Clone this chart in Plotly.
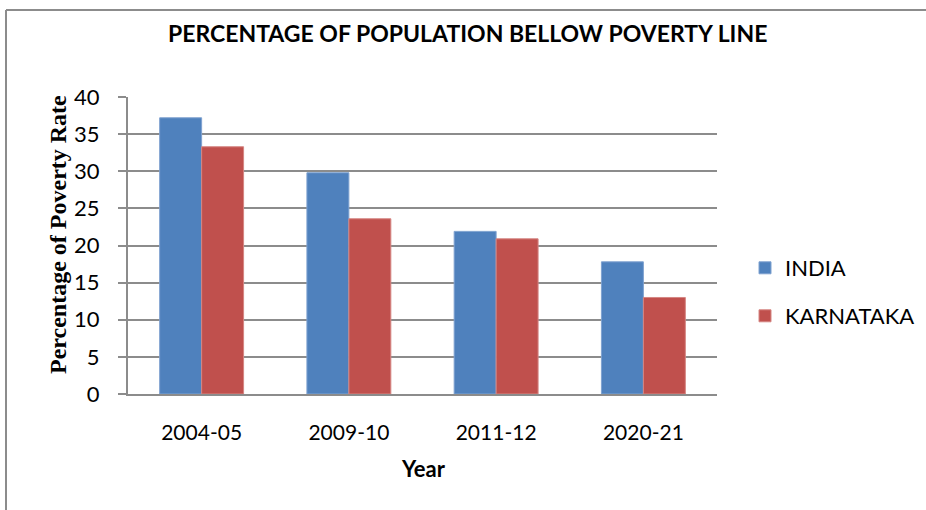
import plotly.graph_objects as go

years = ["2004-05", "2009-10", "2011-12", "2020-21"]
india = [37.2, 29.8, 21.9, 17.8]
karnataka = [33.3, 23.6, 20.9, 13.0]
y_ticks = [0, 5, 10, 15, 20, 25, 30, 35, 40]

W, H = 926, 510
L, R, T, B = 128, 209, 97, 116
pw, ph = W - L - R, H - T - B

def px_x(x):
    return (x - L) / pw

def px_y(y):
    return (H - B - y) / ph

font_main = "Lato, 'Open Sans', sans-serif"

fig = go.Figure()
fig.add_trace(go.Bar(x=years, y=india, name="INDIA", marker=dict(color="#4F81BD", line=dict(color="#7FA2D0", width=1)), legend="legend"))
fig.add_trace(go.Bar(x=years, y=karnataka, name="KARNATAKA", marker=dict(color="#C0504D", line=dict(color="#D58683", width=1)), legend="legend2"))

fig.update_layout(
    width=W, height=H,
    margin=dict(l=L, r=R, t=T, b=B, autoexpand=False),
    paper_bgcolor="white", plot_bgcolor="white",
    barmode="group", bargap=0.43, bargroupgap=0,
    font=dict(family=font_main, size=21, color="black"),
    legend=dict(x=px_x(745), y=px_y(268), xanchor="left", yanchor="middle",
                font=dict(size=22, family=font_main), bgcolor="rgba(0,0,0,0)"),
    legend2=dict(x=px_x(745), y=px_y(316), xanchor="left", yanchor="middle",
                 font=dict(size=22, family=font_main), bgcolor="rgba(0,0,0,0)"),
    xaxis=dict(type="category", showline=True, linecolor="#8c8c8c", linewidth=2, ticks="",
               tickfont=dict(size=21, family=font_main), ticklabelstandoff=19,
               showgrid=False),
    yaxis=dict(range=[0, 40], tickvals=y_ticks, showline=True, linecolor="#8c8c8c", linewidth=2,
               ticks="outside", ticklen=8, tickcolor="#8c8c8c", tickwidth=2,
               showgrid=True, gridcolor="#8c8c8c", gridwidth=2, zeroline=False,
               tickfont=dict(size=22, family=font_main), ticklabelstandoff=14),
    showlegend=True,
)

fig.add_annotation(text="<b>PERCENTAGE OF POPULATION BELLOW POVERTY LINE</b>", xref="paper", yref="paper",
                   x=px_x(467), y=px_y(33), showarrow=False, xanchor="center", yanchor="middle",
                   font=dict(size=23, family=font_main))
fig.add_annotation(text="<b>Year</b>", xref="paper", yref="paper", x=px_x(423), y=px_y(468),
                   showarrow=False, xanchor="center", yanchor="middle", font=dict(size=22, family=font_main))
fig.add_annotation(text="<b>Percentage of Poverty Rate</b>", xref="paper", yref="paper", x=px_x(58), y=px_y(235),
                   showarrow=False, xanchor="center", yanchor="middle", textangle=-90,
                   font=dict(size=24, family="'Liberation Serif', 'Times New Roman', serif"))

# outer border
fig.add_shape(type="line", xref="paper", yref="paper", x0=px_x(6), x1=px_x(940), y0=px_y(10), y1=px_y(10),
              line=dict(color="#8c8c8c", width=2))
fig.add_shape(type="line", xref="paper", yref="paper", x0=px_x(6), x1=px_x(6), y0=px_y(10), y1=px_y(530),
              line=dict(color="#8c8c8c", width=2))

fig.write_html("out.html")
